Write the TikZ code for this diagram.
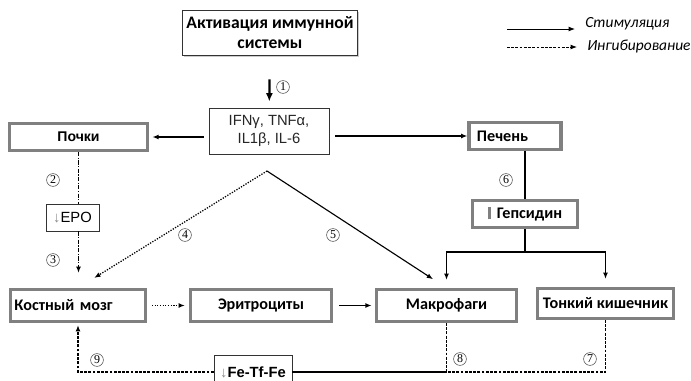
\documentclass[tikz,border=0pt]{standalone}
\usepackage{fontspec}
\setmainfont{Carlito}
\newfontfamily\arialf{Liberation Sans}
\newfontfamily\numf{Liberation Serif}
\usetikzlibrary{arrows.meta,shadows}

\begin{document}
\begin{tikzpicture}[x=0.025cm,y=-0.025cm,inner sep=1mm,
	gbox/.style={rectangle,draw=black!50,line width=2.2pt,fill=white,font=\bfseries\fontsize{11.5}{13}\selectfont},
	tbox/.style={rectangle,draw=black!80,line width=0.6pt,fill=white},
	num/.style={circle,draw=black!70,line width=0.4pt,inner sep=0pt,minimum size=0.32cm,font=\numf\fontsize{8.5}{9}\selectfont},
	ln/.style={line width=0.9pt},
	st/.style={line width=0.9pt,-{Latex[length=4.5pt,width=3.5pt]}},
	dt/.style={line width=0.9pt,densely dotted,-{Latex[length=4.5pt,width=3.5pt]}},
	dd/.style={line width=0.9pt,densely dashdotted},
	ds/.style={line width=0.9pt,dash pattern=on 2pt off 1pt},
	lg/.style={font=\itshape\fontsize{11}{13}\selectfont,inner sep=1mm}]
	\useasboundingbox (0,0) rectangle (691,381);
	% top
	\node [tbox,drop shadow={shadow xshift=1.2pt,shadow yshift=-1.2pt,fill=black!40},minimum width=4.2cm,minimum height=1.125cm,align=center,font=\bfseries\fontsize{12.5}{14.5}\selectfont] (ai) at (270,32.5) {Активация иммунной\\системы};
	\node [tbox,minimum width=3cm,minimum height=1.15cm,align=center,text=black!85,font=\arialf\fontsize{10.5}{12.5}\selectfont] (cy) at (269,131) {IFNγ, TNFα,\\IL1β, IL-6};
	\node [gbox,minimum width=3.45cm,minimum height=0.675cm,font=\arialf\bfseries\fontsize{10}{12}\selectfont] (po) at (78.5,137) {Почки};
	\node [gbox,text width=1.9cm,inner xsep=2mm,minimum height=0.675cm,align=left] (pe) at (515,136) {Печень};
	\node [gbox,minimum width=2.625cm,minimum height=0.675cm] (ge) at (525,214) {\textcolor{black!50}{\rule[-0.5pt]{2.5pt}{9pt}}\,\,Гепсидин};
	\node [tbox,minimum width=1.325cm,minimum height=0.675cm,font=\arialf\fontsize{10.5}{12}\selectfont] (epo) at (72.5,217.5) {\textcolor{black!45}{↓}EPO};
	% bottom row
	\node [gbox,text width=3.175cm,minimum height=0.8cm,align=left] (km) at (78,305.5) {Костный мозг};
	\node [gbox,minimum width=3.525cm,minimum height=0.8cm] (er) at (261,305.5) {Эритроциты};
	\node [gbox,minimum width=3.5cm,minimum height=0.8cm] (ma) at (446.5,305.5) {Макрофаги};
	\node [gbox,minimum width=3.4cm,minimum height=0.75cm,inner xsep=0.3mm] (tk) at (605.5,303.5) {Тонкий кишечник};
	\node [tbox,minimum width=1.95cm,minimum height=0.825cm,font=\arialf\bfseries\fontsize{10.5}{12}\selectfont] (fe) at (253,372) {\textcolor{black!45}{\mdseries↓}Fe-Tf-Fe};
	% legend
	\node [lg,anchor=west] (lst) at (581,24) {Стимуляция};
	\node [lg,anchor=west] (lin) at (583,46) {Ингибирование};
	\coordinate (l1) at (507,29);
	\coordinate (l2) at (507,47);
	\draw [st,line width=0.7pt,shorten >=0.15cm] (l1) -- (l1 -| lst.west);
	\draw [st,line width=0.7pt,dash pattern=on 2pt off 1pt,shorten >=0.15cm] (l2) -- (l2 -| lin.west);
	% connectors
	\coordinate (ap) at (267,171);
	\coordinate (sp) at (524,252);
	\draw [st,line width=1.6pt,-{Latex[length=6pt,width=5pt]},shorten <=0.6cm,shorten >=0.15cm] (ai) -- (cy);
	\draw [st,shorten <=0.12cm,shorten >=0.08cm] (cy.west |- po) -- (po);
	\draw [st,shorten <=0.15cm] (cy.east |- pe) -- (pe);
	\draw [ln] (pe.south -| ge) -- (ge.north);
	\draw [ln] (ge.south) -- (ge.south |- sp);
	\draw [st,shorten >=0.2cm] (sp) -| (ma.north);
	\draw [st,shorten >=0.2cm] (sp) -| (tk.north);
	\draw [dt,shorten >=0.475cm] (ap) -- (km.north);
	\draw [st,line width=0.8pt,shorten >=0.4cm] (ap) -- (ma.north);
	\draw [dd] (po.south) -- (po.south |- epo.north);
	\draw [dd,-{Latex[length=4.5pt,width=3.5pt]},shorten >=0.375cm] (po.south |- epo.south) -- (po.south |- km.north);
	\draw [dt,shorten <=0.12cm,shorten >=0.1cm] (km) -- (er);
	\draw [st,line width=1.2pt,shorten <=0.15cm,shorten >=0.08cm] (er) -- (ma);
	\draw [ds] (ma.south) |- (fe.east);
	\draw [ds] (tk.south) |- (fe.east);
	\draw [ds,-{Latex[length=4.5pt,width=3.5pt]},shorten >=0.05cm] (fe.west) -| (km.south);
	% numbers
	\node [num] (n1) at (283,87) {1};
	\node [num] (n2) at (53,180) {2};
	\node [num] (n3) at (53,260) {3};
	\node [num] (n4) at (185,235) {4};
	\node [num] (n5) at (333,235) {5};
	\node [num] (n6) at (506,180) {6};
	\node [num] (n7) at (590,359) {7};
	\node [num] (n8) at (460,359) {8};
	\node [num] (n9) at (97,360) {9};
\end{tikzpicture}
\end{document}
